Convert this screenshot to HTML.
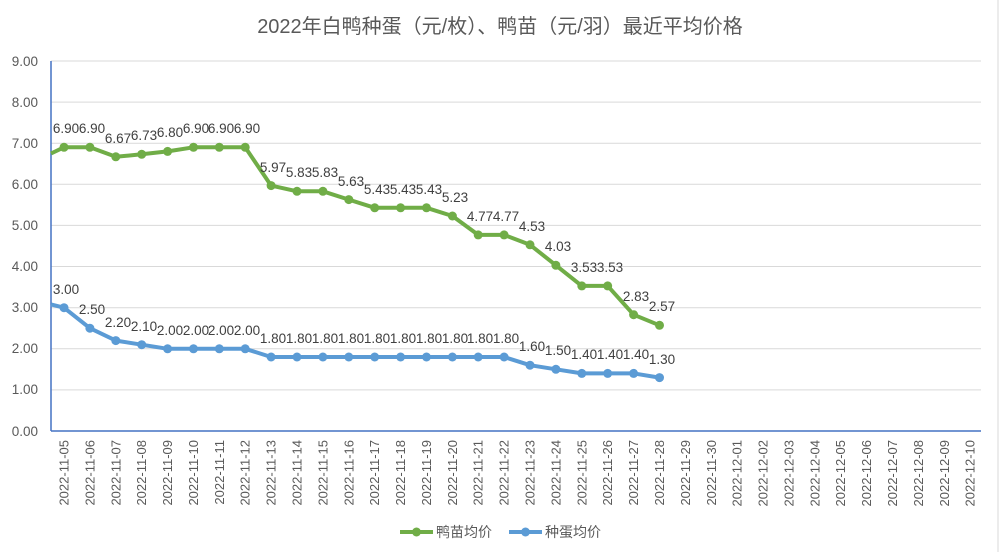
<!DOCTYPE html>
<html><head><meta charset="utf-8"><style>
html,body{margin:0;padding:0;background:#fff;}
svg{display:block;font-family:"Liberation Sans","Noto Sans CJK SC",sans-serif;}
</style></head><body>
<svg width="1000" height="552" viewBox="0 0 1000 552" xmlns="http://www.w3.org/2000/svg">
<rect x="0" y="0" width="1000" height="552" fill="#fff"/>
<line x1="998" y1="0" x2="998" y2="552" stroke="#d9d9d9"/>
<text x="500" y="33" text-anchor="middle" font-size="20" fill="#595959">2022年白鸭种蛋（元/枚）、鸭苗（元/羽）最近平均价格</text>
<g stroke="#d9d9d9" stroke-width="1">
<line x1="51" y1="61" x2="981" y2="61"/>
<line x1="51" y1="102.1" x2="981" y2="102.1"/>
<line x1="51" y1="143.2" x2="981" y2="143.2"/>
<line x1="51" y1="184.3" x2="981" y2="184.3"/>
<line x1="51" y1="225.4" x2="981" y2="225.4"/>
<line x1="51" y1="266.5" x2="981" y2="266.5"/>
<line x1="51" y1="307.7" x2="981" y2="307.7"/>
<line x1="51" y1="348.8" x2="981" y2="348.8"/>
<line x1="51" y1="389.9" x2="981" y2="389.9"/>
</g>
<line x1="51" y1="61" x2="51" y2="431" stroke="#4472c4" stroke-width="1.5"/>
<line x1="51" y1="431" x2="981" y2="431" stroke="#4472c4" stroke-width="1.5"/>
<g font-size="13.5" fill="#595959" text-anchor="end">
<text x="38" y="66">9.00</text>
<text x="38" y="107">8.00</text>
<text x="38" y="148">7.00</text>
<text x="38" y="189">6.00</text>
<text x="38" y="230">5.00</text>
<text x="38" y="271">4.00</text>
<text x="38" y="312">3.00</text>
<text x="38" y="353">2.00</text>
<text x="38" y="394">1.00</text>
<text x="38" y="436">0.00</text>
</g>
<g font-size="13" fill="#595959" text-anchor="end">
<text transform="translate(68.5,440) rotate(-90)">2022-11-05</text>
<text transform="translate(94.4,440) rotate(-90)">2022-11-06</text>
<text transform="translate(120.3,440) rotate(-90)">2022-11-07</text>
<text transform="translate(146.2,440) rotate(-90)">2022-11-08</text>
<text transform="translate(172.1,440) rotate(-90)">2022-11-09</text>
<text transform="translate(198,440) rotate(-90)">2022-11-10</text>
<text transform="translate(223.8,440) rotate(-90)">2022-11-11</text>
<text transform="translate(249.7,440) rotate(-90)">2022-11-12</text>
<text transform="translate(275.6,440) rotate(-90)">2022-11-13</text>
<text transform="translate(301.5,440) rotate(-90)">2022-11-14</text>
<text transform="translate(327.4,440) rotate(-90)">2022-11-15</text>
<text transform="translate(353.3,440) rotate(-90)">2022-11-16</text>
<text transform="translate(379.2,440) rotate(-90)">2022-11-17</text>
<text transform="translate(405.1,440) rotate(-90)">2022-11-18</text>
<text transform="translate(431,440) rotate(-90)">2022-11-19</text>
<text transform="translate(456.9,440) rotate(-90)">2022-11-20</text>
<text transform="translate(482.7,440) rotate(-90)">2022-11-21</text>
<text transform="translate(508.6,440) rotate(-90)">2022-11-22</text>
<text transform="translate(534.5,440) rotate(-90)">2022-11-23</text>
<text transform="translate(560.4,440) rotate(-90)">2022-11-24</text>
<text transform="translate(586.3,440) rotate(-90)">2022-11-25</text>
<text transform="translate(612.2,440) rotate(-90)">2022-11-26</text>
<text transform="translate(638.1,440) rotate(-90)">2022-11-27</text>
<text transform="translate(664,440) rotate(-90)">2022-11-28</text>
<text transform="translate(689.9,440) rotate(-90)">2022-11-29</text>
<text transform="translate(715.8,440) rotate(-90)">2022-11-30</text>
<text transform="translate(741.6,440) rotate(-90)">2022-12-01</text>
<text transform="translate(767.5,440) rotate(-90)">2022-12-02</text>
<text transform="translate(793.4,440) rotate(-90)">2022-12-03</text>
<text transform="translate(819.3,440) rotate(-90)">2022-12-04</text>
<text transform="translate(845.2,440) rotate(-90)">2022-12-05</text>
<text transform="translate(871.1,440) rotate(-90)">2022-12-06</text>
<text transform="translate(897,440) rotate(-90)">2022-12-07</text>
<text transform="translate(922.9,440) rotate(-90)">2022-12-08</text>
<text transform="translate(948.8,440) rotate(-90)">2022-12-09</text>
<text transform="translate(974.6,440) rotate(-90)">2022-12-10</text>
</g>
<polyline fill="none" stroke="#70ad47" stroke-width="4" stroke-linejoin="round" points="51,153.5 64,147.3 89.9,147.3 115.8,156.8 141.7,154.3 167.6,151.4 193.5,147.3 219.3,147.3 245.2,147.3 271.1,185.6 297,191.3 322.9,191.3 348.8,199.6 374.7,207.8 400.6,207.8 426.5,207.8 452.4,216 478.2,234.9 504.1,234.9 530,244.8 555.9,265.3 581.8,285.9 607.7,285.9 633.6,314.7 659.5,325.3"/>
<g fill="#70ad47">
<circle cx="64" cy="147.3" r="4.5"/><circle cx="89.9" cy="147.3" r="4.5"/><circle cx="115.8" cy="156.8" r="4.5"/><circle cx="141.7" cy="154.3" r="4.5"/><circle cx="167.6" cy="151.4" r="4.5"/><circle cx="193.5" cy="147.3" r="4.5"/><circle cx="219.3" cy="147.3" r="4.5"/><circle cx="245.2" cy="147.3" r="4.5"/><circle cx="271.1" cy="185.6" r="4.5"/><circle cx="297" cy="191.3" r="4.5"/><circle cx="322.9" cy="191.3" r="4.5"/><circle cx="348.8" cy="199.6" r="4.5"/><circle cx="374.7" cy="207.8" r="4.5"/><circle cx="400.6" cy="207.8" r="4.5"/><circle cx="426.5" cy="207.8" r="4.5"/><circle cx="452.4" cy="216" r="4.5"/><circle cx="478.2" cy="234.9" r="4.5"/><circle cx="504.1" cy="234.9" r="4.5"/><circle cx="530" cy="244.8" r="4.5"/><circle cx="555.9" cy="265.3" r="4.5"/><circle cx="581.8" cy="285.9" r="4.5"/><circle cx="607.7" cy="285.9" r="4.5"/><circle cx="633.6" cy="314.7" r="4.5"/><circle cx="659.5" cy="325.3" r="4.5"/>
</g>
<polyline fill="none" stroke="#5b9bd5" stroke-width="4" stroke-linejoin="round" points="51,304.4 64,307.7 89.9,328.2 115.8,340.6 141.7,344.7 167.6,348.8 193.5,348.8 219.3,348.8 245.2,348.8 271.1,357 297,357 322.9,357 348.8,357 374.7,357 400.6,357 426.5,357 452.4,357 478.2,357 504.1,357 530,365.2 555.9,369.3 581.8,373.4 607.7,373.4 633.6,373.4 659.5,377.6"/>
<g fill="#5b9bd5">
<circle cx="64" cy="307.7" r="4.5"/><circle cx="89.9" cy="328.2" r="4.5"/><circle cx="115.8" cy="340.6" r="4.5"/><circle cx="141.7" cy="344.7" r="4.5"/><circle cx="167.6" cy="348.8" r="4.5"/><circle cx="193.5" cy="348.8" r="4.5"/><circle cx="219.3" cy="348.8" r="4.5"/><circle cx="245.2" cy="348.8" r="4.5"/><circle cx="271.1" cy="357" r="4.5"/><circle cx="297" cy="357" r="4.5"/><circle cx="322.9" cy="357" r="4.5"/><circle cx="348.8" cy="357" r="4.5"/><circle cx="374.7" cy="357" r="4.5"/><circle cx="400.6" cy="357" r="4.5"/><circle cx="426.5" cy="357" r="4.5"/><circle cx="452.4" cy="357" r="4.5"/><circle cx="478.2" cy="357" r="4.5"/><circle cx="504.1" cy="357" r="4.5"/><circle cx="530" cy="365.2" r="4.5"/><circle cx="555.9" cy="369.3" r="4.5"/><circle cx="581.8" cy="373.4" r="4.5"/><circle cx="607.7" cy="373.4" r="4.5"/><circle cx="633.6" cy="373.4" r="4.5"/><circle cx="659.5" cy="377.6" r="4.5"/>
</g>
<g font-size="13.5" fill="#404040" text-anchor="middle">
<text x="66" y="133">6.90</text><text x="92" y="133">6.90</text><text x="118" y="143">6.67</text><text x="144" y="140">6.73</text><text x="170" y="137">6.80</text><text x="196" y="133">6.90</text><text x="221" y="133">6.90</text><text x="247" y="133">6.90</text><text x="273" y="172">5.97</text><text x="299" y="177">5.83</text><text x="325" y="177">5.83</text><text x="351" y="186">5.63</text><text x="377" y="194">5.43</text><text x="403" y="194">5.43</text><text x="429" y="194">5.43</text><text x="455" y="202">5.23</text><text x="480" y="221">4.77</text><text x="506" y="221">4.77</text><text x="532" y="231">4.53</text><text x="558" y="251">4.03</text><text x="584" y="272">3.53</text><text x="610" y="272">3.53</text><text x="636" y="301">2.83</text><text x="662" y="311">2.57</text>
<text x="66" y="294">3.00</text><text x="92" y="314">2.50</text><text x="118" y="327">2.20</text><text x="144" y="331">2.10</text><text x="170" y="335">2.00</text><text x="196" y="335">2.00</text><text x="221" y="335">2.00</text><text x="247" y="335">2.00</text><text x="273" y="343">1.80</text><text x="299" y="343">1.80</text><text x="325" y="343">1.80</text><text x="351" y="343">1.80</text><text x="377" y="343">1.80</text><text x="403" y="343">1.80</text><text x="429" y="343">1.80</text><text x="455" y="343">1.80</text><text x="480" y="343">1.80</text><text x="506" y="343">1.80</text><text x="532" y="351">1.60</text><text x="558" y="355">1.50</text><text x="584" y="359">1.40</text><text x="610" y="359">1.40</text><text x="636" y="359">1.40</text><text x="662" y="364">1.30</text>
</g>
<line x1="400" y1="532" x2="433" y2="532" stroke="#70ad47" stroke-width="4"/>
<circle cx="416.5" cy="532" r="4.5" fill="#70ad47"/>
<text x="436" y="537" font-size="14" fill="#595959">鸭苗均价</text>
<line x1="509" y1="532" x2="542" y2="532" stroke="#5b9bd5" stroke-width="4"/>
<circle cx="525.5" cy="532" r="4.5" fill="#5b9bd5"/>
<text x="545" y="537" font-size="14" fill="#595959">种蛋均价</text>
</svg>
</body></html>
